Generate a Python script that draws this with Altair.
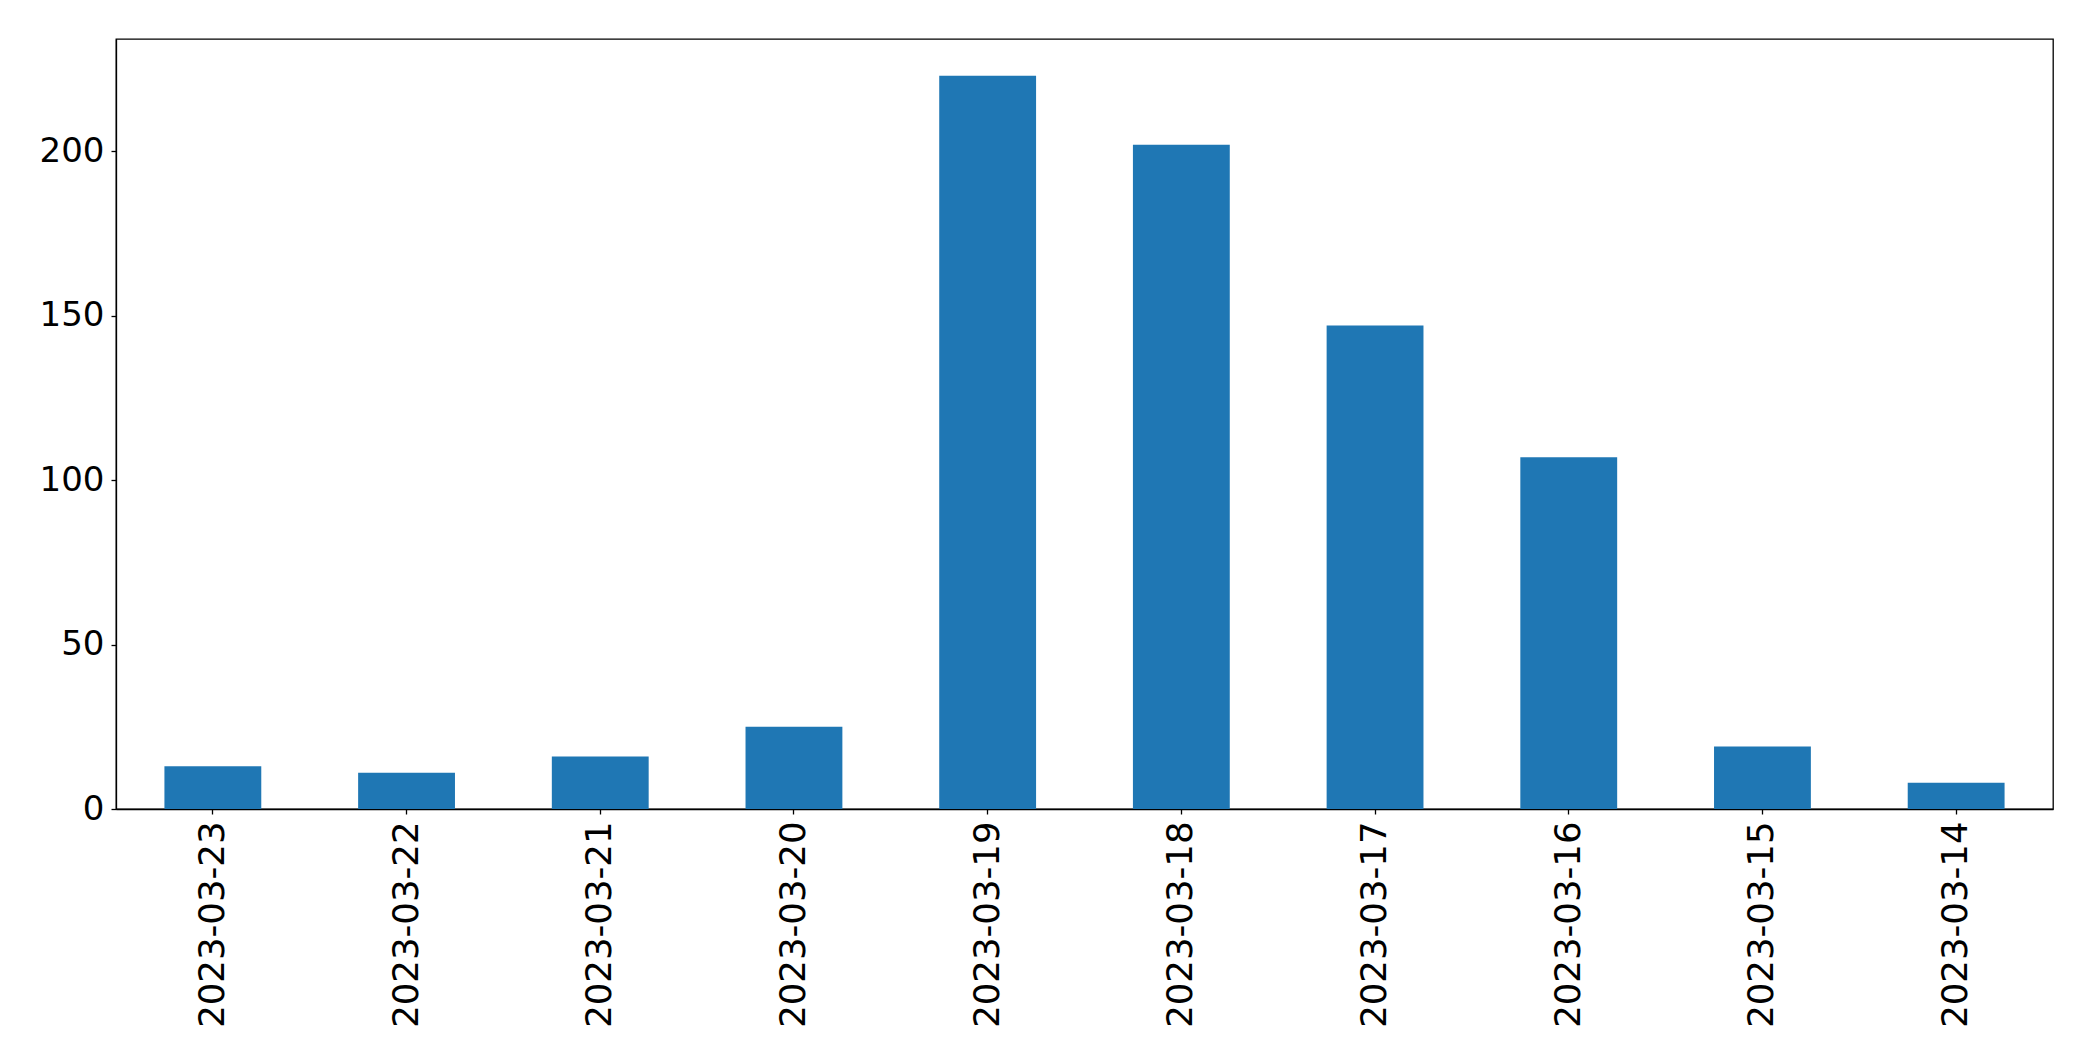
import altair as alt
import pandas as pd

dates = ["2023-03-23", "2023-03-22", "2023-03-21", "2023-03-20", "2023-03-19",
         "2023-03-18", "2023-03-17", "2023-03-16", "2023-03-15", "2023-03-14"]
counts = [13, 11, 16, 25, 223, 202, 147, 107, 19, 8]

df = pd.DataFrame({"date": dates, "count": counts})

FONT = "DejaVu Sans"

chart = alt.Chart(df).mark_bar(color="#1f77b4").encode(
    x=alt.X("date:N", sort=dates, title=None,
            scale=alt.Scale(paddingInner=0.5, paddingOuter=0.25),
            axis=alt.Axis(labelAngle=-90, labelFontSize=35.5, labelFont=FONT,
                          labelColor="black", tickColor="black", domainColor="black",
                          tickSize=5, labelPadding=7, labelLimit=0,
                          domainWidth=1.3, tickWidth=1.3)),
    y=alt.Y("count:Q", title=None,
            scale=alt.Scale(domain=[0, 234.15], nice=False, zero=True),
            axis=alt.Axis(values=[0, 50, 100, 150, 200], labelFontSize=34, labelFont=FONT,
                          labelColor="black", tickColor="black", domainColor="black",
                          tickSize=5, labelPadding=7, grid=False,
                          domainWidth=1.3, tickWidth=1.3)),
).properties(
    width=1937,
    height=770,
    autosize=alt.AutoSizeParams(type="none"),
    padding={"left": 108, "top": 31, "right": 20, "bottom": 230},
).configure_view(
    stroke="black", strokeWidth=1.3
)

chart.save("out.html", embed_options={"renderer": "svg", "actions": False})
